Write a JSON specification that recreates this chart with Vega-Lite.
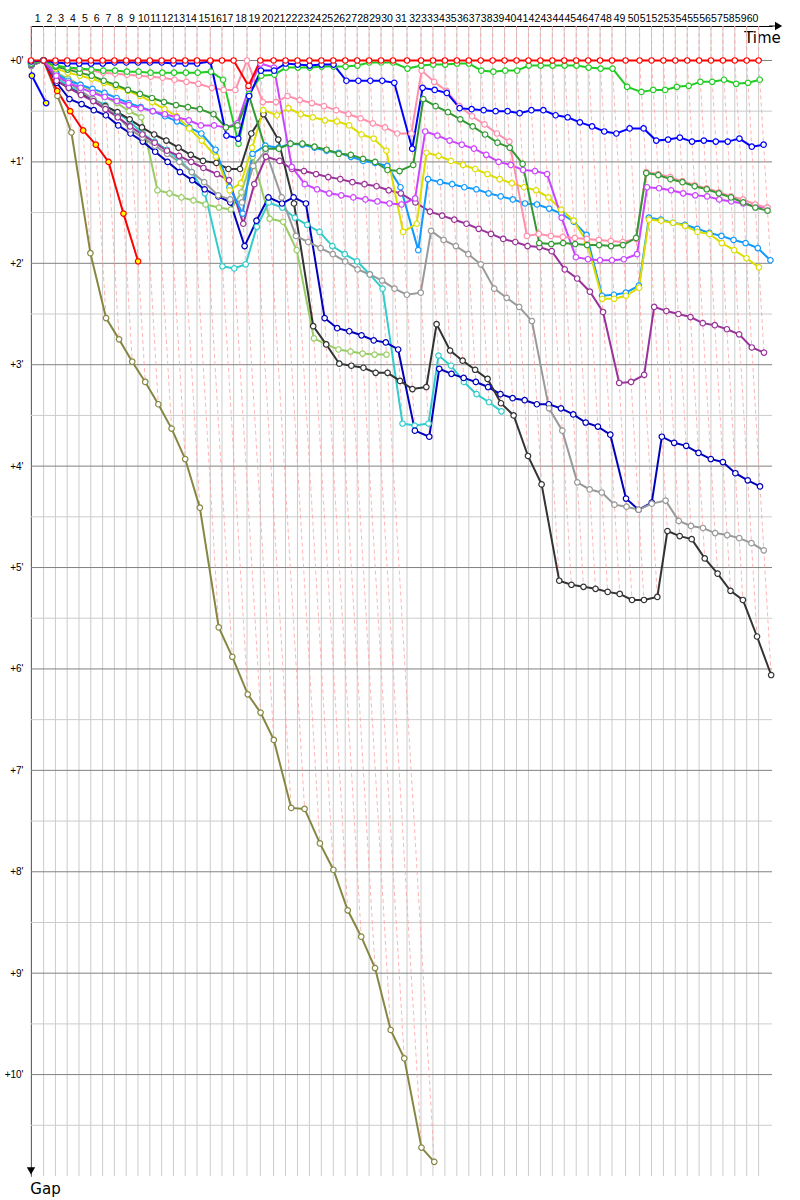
{
"$schema": "https://vega.github.io/schema/vega-lite/v6.json",
"width": 741, "height": 1150,
"autosize": {"type": "none"},
"padding": {"left": 31, "top": 26, "right": 28, "bottom": 24},
"background": "white",
"config": {"view": {"stroke": null}, "axis": {"grid": false, "ticks": false}},
"datasets": {
"laps": [{"lap":0,"t":0},{"lap":1,"t":2.1},{"lap":2,"t":4.07},{"lap":3,"t":6.03},{"lap":4,"t":8.0},{"lap":5,"t":9.97},{"lap":6,"t":11.93},{"lap":7,"t":13.9},{"lap":8,"t":15.87},{"lap":9,"t":17.83},{"lap":10,"t":19.8},{"lap":11,"t":21.77},{"lap":12,"t":23.73},{"lap":13,"t":25.7},{"lap":14,"t":27.67},{"lap":15,"t":29.88},{"lap":16,"t":31.83},{"lap":17,"t":33.77},{"lap":18,"t":36},{"lap":19,"t":38.22},{"lap":20,"t":40.43},{"lap":21,"t":42.42},{"lap":22,"t":44.41},{"lap":23,"t":46.4},{"lap":24,"t":48.39},{"lap":25,"t":50.38},{"lap":26,"t":52.37},{"lap":27,"t":54.36},{"lap":28,"t":56.35},{"lap":29,"t":58.34},{"lap":30,"t":60.33},{"lap":31,"t":62.67},{"lap":32,"t":65},{"lap":33,"t":66.99},{"lap":34,"t":68.98},{"lap":35,"t":70.97},{"lap":36,"t":72.96},{"lap":37,"t":74.95},{"lap":38,"t":76.94},{"lap":39,"t":78.93},{"lap":40,"t":80.92},{"lap":41,"t":82.91},{"lap":42,"t":84.9},{"lap":43,"t":86.89},{"lap":44,"t":88.88},{"lap":45,"t":90.87},{"lap":46,"t":92.86},{"lap":47,"t":94.85},{"lap":48,"t":96.84},{"lap":49,"t":99.1},{"lap":50,"t":101.43},{"lap":51,"t":103.42},{"lap":52,"t":105.4},{"lap":53,"t":107.38},{"lap":54,"t":109.37},{"lap":55,"t":111.35},{"lap":56,"t":113.33},{"lap":57,"t":115.32},{"lap":58,"t":117.3},{"lap":59,"t":119.28},{"lap":60,"t":121.27}],
"ymaj": [{"v":0},{"v":1},{"v":2},{"v":3},{"v":4},{"v":5},{"v":6},{"v":7},{"v":8},{"v":9},{"v":10}],
"ymin": [{"v":0.5},{"v":1.5},{"v":2.5},{"v":3.5},{"v":4.5},{"v":5.5},{"v":6.5},{"v":7.5},{"v":8.5},{"v":9.5},{"v":10.5}],
"gaps": [
{"d":"olive","lap":0,"g":0.05},{"d":"olive","lap":1,"g":0},{"d":"olive","lap":2,"g":0.35},{"d":"olive","lap":3,"g":0.71},{"d":"olive","lap":4,"g":1.9},{"d":"olive","lap":5,"g":2.54},{"d":"olive","lap":6,"g":2.75},{"d":"olive","lap":7,"g":2.97},{"d":"olive","lap":8,"g":3.17},{"d":"olive","lap":9,"g":3.39},{"d":"olive","lap":10,"g":3.63},{"d":"olive","lap":11,"g":3.93},{"d":"olive","lap":12,"g":4.41},{"d":"olive","lap":13,"g":5.59},{"d":"olive","lap":14,"g":5.88},{"d":"olive","lap":15,"g":6.25},{"d":"olive","lap":16,"g":6.43},{"d":"olive","lap":17,"g":6.7},{"d":"olive","lap":18,"g":7.37},{"d":"olive","lap":19,"g":7.38},{"d":"olive","lap":20,"g":7.72},{"d":"olive","lap":21,"g":7.98},{"d":"olive","lap":22,"g":8.38},{"d":"olive","lap":23,"g":8.64},{"d":"olive","lap":24,"g":8.95},{"d":"olive","lap":25,"g":9.56},{"d":"olive","lap":26,"g":9.84},{"d":"olive","lap":27,"g":10.72},{"d":"olive","lap":28,"g":10.86},
{"d":"ygreen","lap":0,"g":0.04},{"d":"ygreen","lap":1,"g":0},{"d":"ygreen","lap":2,"g":0.12},{"d":"ygreen","lap":3,"g":0.18},{"d":"ygreen","lap":4,"g":0.24},{"d":"ygreen","lap":5,"g":0.3},{"d":"ygreen","lap":6,"g":0.36},{"d":"ygreen","lap":7,"g":0.42},{"d":"ygreen","lap":8,"g":0.5},{"d":"ygreen","lap":9,"g":0.56},{"d":"ygreen","lap":10,"g":1.28},{"d":"ygreen","lap":11,"g":1.31},{"d":"ygreen","lap":12,"g":1.35},{"d":"ygreen","lap":13,"g":1.38},{"d":"ygreen","lap":14,"g":1.42},{"d":"ygreen","lap":15,"g":1.45},{"d":"ygreen","lap":16,"g":1.47},{"d":"ygreen","lap":17,"g":1.3},{"d":"ygreen","lap":18,"g":0.95},{"d":"ygreen","lap":19,"g":1.56},{"d":"ygreen","lap":20,"g":1.59},{"d":"ygreen","lap":21,"g":1.87},{"d":"ygreen","lap":22,"g":2.74},{"d":"ygreen","lap":23,"g":2.8},{"d":"ygreen","lap":24,"g":2.85},{"d":"ygreen","lap":25,"g":2.87},{"d":"ygreen","lap":26,"g":2.89},{"d":"ygreen","lap":27,"g":2.9},{"d":"ygreen","lap":28,"g":2.9},
{"d":"turq","lap":0,"g":0.05},{"d":"turq","lap":1,"g":0},{"d":"turq","lap":2,"g":0.17},{"d":"turq","lap":3,"g":0.25},{"d":"turq","lap":4,"g":0.32},{"d":"turq","lap":5,"g":0.38},{"d":"turq","lap":6,"g":0.44},{"d":"turq","lap":7,"g":0.52},{"d":"turq","lap":8,"g":0.6},{"d":"turq","lap":9,"g":0.72},{"d":"turq","lap":10,"g":0.8},{"d":"turq","lap":11,"g":0.88},{"d":"turq","lap":12,"g":0.98},{"d":"turq","lap":13,"g":1.1},{"d":"turq","lap":14,"g":1.31},{"d":"turq","lap":15,"g":2.03},{"d":"turq","lap":16,"g":2.05},{"d":"turq","lap":17,"g":2.01},{"d":"turq","lap":18,"g":1.64},{"d":"turq","lap":19,"g":1.4},{"d":"turq","lap":20,"g":1.45},{"d":"turq","lap":21,"g":1.55},{"d":"turq","lap":22,"g":1.62},{"d":"turq","lap":23,"g":1.69},{"d":"turq","lap":24,"g":1.83},{"d":"turq","lap":25,"g":1.91},{"d":"turq","lap":26,"g":1.98},{"d":"turq","lap":27,"g":2.11},{"d":"turq","lap":28,"g":2.25},{"d":"turq","lap":29,"g":3.58},{"d":"turq","lap":30,"g":3.6},{"d":"turq","lap":31,"g":3.58},{"d":"turq","lap":32,"g":2.91},{"d":"turq","lap":33,"g":3.01},{"d":"turq","lap":34,"g":3.17},{"d":"turq","lap":35,"g":3.29},{"d":"turq","lap":36,"g":3.37},{"d":"turq","lap":37,"g":3.46},
{"d":"gy","lap":0,"g":0.04},{"d":"gy","lap":1,"g":0},{"d":"gy","lap":2,"g":0.115},
{"d":"by","lap":0,"g":0.15},{"d":"by","lap":1,"g":0.42},
{"d":"ry","lap":0,"g":0.02},{"d":"ry","lap":1,"g":0},{"d":"ry","lap":2,"g":0.3},{"d":"ry","lap":3,"g":0.5},{"d":"ry","lap":4,"g":0.69},{"d":"ry","lap":5,"g":0.83},{"d":"ry","lap":6,"g":1.0},{"d":"ry","lap":7,"g":1.51},{"d":"ry","lap":8,"g":1.98},
{"d":"dkblue","lap":0,"g":0.04},{"d":"dkblue","lap":1,"g":0},{"d":"dkblue","lap":2,"g":0.22},{"d":"dkblue","lap":3,"g":0.38},{"d":"dkblue","lap":4,"g":0.43},{"d":"dkblue","lap":5,"g":0.49},{"d":"dkblue","lap":6,"g":0.54},{"d":"dkblue","lap":7,"g":0.64},{"d":"dkblue","lap":8,"g":0.72},{"d":"dkblue","lap":9,"g":0.8},{"d":"dkblue","lap":10,"g":0.9},{"d":"dkblue","lap":11,"g":1.0},{"d":"dkblue","lap":12,"g":1.1},{"d":"dkblue","lap":13,"g":1.18},{"d":"dkblue","lap":14,"g":1.27},{"d":"dkblue","lap":15,"g":1.34},{"d":"dkblue","lap":16,"g":1.4},{"d":"dkblue","lap":17,"g":1.83},{"d":"dkblue","lap":18,"g":1.58},{"d":"dkblue","lap":19,"g":1.35},{"d":"dkblue","lap":20,"g":1.41},{"d":"dkblue","lap":21,"g":1.35},{"d":"dkblue","lap":22,"g":1.41},{"d":"dkblue","lap":23,"g":2.54},{"d":"dkblue","lap":24,"g":2.64},{"d":"dkblue","lap":25,"g":2.67},{"d":"dkblue","lap":26,"g":2.71},{"d":"dkblue","lap":27,"g":2.76},{"d":"dkblue","lap":28,"g":2.78},{"d":"dkblue","lap":29,"g":2.85},{"d":"dkblue","lap":30,"g":3.65},{"d":"dkblue","lap":31,"g":3.71},{"d":"dkblue","lap":32,"g":3.04},{"d":"dkblue","lap":33,"g":3.09},{"d":"dkblue","lap":34,"g":3.13},{"d":"dkblue","lap":35,"g":3.17},{"d":"dkblue","lap":36,"g":3.22},{"d":"dkblue","lap":37,"g":3.29},{"d":"dkblue","lap":38,"g":3.33},{"d":"dkblue","lap":39,"g":3.35},{"d":"dkblue","lap":40,"g":3.39},{"d":"dkblue","lap":41,"g":3.39},{"d":"dkblue","lap":42,"g":3.43},{"d":"dkblue","lap":43,"g":3.49},{"d":"dkblue","lap":44,"g":3.57},{"d":"dkblue","lap":45,"g":3.61},{"d":"dkblue","lap":46,"g":3.69},{"d":"dkblue","lap":47,"g":4.32},{"d":"dkblue","lap":48,"g":4.43},{"d":"dkblue","lap":49,"g":4.36},{"d":"dkblue","lap":50,"g":3.71},{"d":"dkblue","lap":51,"g":3.77},{"d":"dkblue","lap":52,"g":3.8},{"d":"dkblue","lap":53,"g":3.87},{"d":"dkblue","lap":54,"g":3.93},{"d":"dkblue","lap":55,"g":3.96},{"d":"dkblue","lap":56,"g":4.07},{"d":"dkblue","lap":57,"g":4.14},{"d":"dkblue","lap":58,"g":4.2},
{"d":"black","lap":0,"g":0.05},{"d":"black","lap":1,"g":0},{"d":"black","lap":2,"g":0.2},{"d":"black","lap":3,"g":0.27},{"d":"black","lap":4,"g":0.33},{"d":"black","lap":5,"g":0.39},{"d":"black","lap":6,"g":0.45},{"d":"black","lap":7,"g":0.51},{"d":"black","lap":8,"g":0.58},{"d":"black","lap":9,"g":0.66},{"d":"black","lap":10,"g":0.73},{"d":"black","lap":11,"g":0.79},{"d":"black","lap":12,"g":0.86},{"d":"black","lap":13,"g":0.93},{"d":"black","lap":14,"g":0.99},{"d":"black","lap":15,"g":1.01},{"d":"black","lap":16,"g":1.07},{"d":"black","lap":17,"g":1.07},{"d":"black","lap":18,"g":0.72},{"d":"black","lap":19,"g":0.53},{"d":"black","lap":20,"g":0.78},{"d":"black","lap":21,"g":1.41},{"d":"black","lap":22,"g":2.62},{"d":"black","lap":23,"g":2.8},{"d":"black","lap":24,"g":2.99},{"d":"black","lap":25,"g":3.01},{"d":"black","lap":26,"g":3.03},{"d":"black","lap":27,"g":3.08},{"d":"black","lap":28,"g":3.08},{"d":"black","lap":29,"g":3.16},{"d":"black","lap":30,"g":3.24},{"d":"black","lap":31,"g":3.22},{"d":"black","lap":32,"g":2.6},{"d":"black","lap":33,"g":2.86},{"d":"black","lap":34,"g":2.96},{"d":"black","lap":35,"g":3.05},{"d":"black","lap":36,"g":3.14},{"d":"black","lap":37,"g":3.38},{"d":"black","lap":38,"g":3.5},{"d":"black","lap":39,"g":3.9},{"d":"black","lap":40,"g":4.18},{"d":"black","lap":41,"g":5.13},{"d":"black","lap":42,"g":5.17},{"d":"black","lap":43,"g":5.19},{"d":"black","lap":44,"g":5.21},{"d":"black","lap":45,"g":5.24},{"d":"black","lap":46,"g":5.26},{"d":"black","lap":47,"g":5.32},{"d":"black","lap":48,"g":5.32},{"d":"black","lap":49,"g":5.29},{"d":"black","lap":50,"g":4.64},{"d":"black","lap":51,"g":4.69},{"d":"black","lap":52,"g":4.72},{"d":"black","lap":53,"g":4.91},{"d":"black","lap":54,"g":5.06},{"d":"black","lap":55,"g":5.23},{"d":"black","lap":56,"g":5.32},{"d":"black","lap":57,"g":5.68},{"d":"black","lap":58,"g":6.06},
{"d":"gray","lap":0,"g":0.05},{"d":"gray","lap":1,"g":0},{"d":"gray","lap":2,"g":0.15},{"d":"gray","lap":3,"g":0.22},{"d":"gray","lap":4,"g":0.3},{"d":"gray","lap":5,"g":0.38},{"d":"gray","lap":6,"g":0.46},{"d":"gray","lap":7,"g":0.55},{"d":"gray","lap":8,"g":0.68},{"d":"gray","lap":9,"g":0.76},{"d":"gray","lap":10,"g":0.84},{"d":"gray","lap":11,"g":0.92},{"d":"gray","lap":12,"g":1.0},{"d":"gray","lap":13,"g":1.1},{"d":"gray","lap":14,"g":1.2},{"d":"gray","lap":15,"g":1.33},{"d":"gray","lap":16,"g":1.37},{"d":"gray","lap":17,"g":1.4},{"d":"gray","lap":18,"g":1.04},{"d":"gray","lap":19,"g":0.89},{"d":"gray","lap":20,"g":1.35},{"d":"gray","lap":21,"g":1.73},{"d":"gray","lap":22,"g":1.79},{"d":"gray","lap":23,"g":1.85},{"d":"gray","lap":24,"g":1.91},{"d":"gray","lap":25,"g":1.98},{"d":"gray","lap":26,"g":2.06},{"d":"gray","lap":27,"g":2.11},{"d":"gray","lap":28,"g":2.17},{"d":"gray","lap":29,"g":2.25},{"d":"gray","lap":30,"g":2.31},{"d":"gray","lap":31,"g":2.29},{"d":"gray","lap":32,"g":1.68},{"d":"gray","lap":33,"g":1.77},{"d":"gray","lap":34,"g":1.83},{"d":"gray","lap":35,"g":1.91},{"d":"gray","lap":36,"g":2.01},{"d":"gray","lap":37,"g":2.25},{"d":"gray","lap":38,"g":2.34},{"d":"gray","lap":39,"g":2.43},{"d":"gray","lap":40,"g":2.57},{"d":"gray","lap":41,"g":3.43},{"d":"gray","lap":42,"g":3.65},{"d":"gray","lap":43,"g":4.16},{"d":"gray","lap":44,"g":4.23},{"d":"gray","lap":45,"g":4.26},{"d":"gray","lap":46,"g":4.38},{"d":"gray","lap":47,"g":4.4},{"d":"gray","lap":48,"g":4.43},{"d":"gray","lap":49,"g":4.37},{"d":"gray","lap":50,"g":4.34},{"d":"gray","lap":51,"g":4.54},{"d":"gray","lap":52,"g":4.59},{"d":"gray","lap":53,"g":4.61},{"d":"gray","lap":54,"g":4.66},{"d":"gray","lap":55,"g":4.68},{"d":"gray","lap":56,"g":4.71},{"d":"gray","lap":57,"g":4.76},{"d":"gray","lap":58,"g":4.83},
{"d":"purple","lap":0,"g":0.04},{"d":"purple","lap":1,"g":0},{"d":"purple","lap":2,"g":0.2},{"d":"purple","lap":3,"g":0.27},{"d":"purple","lap":4,"g":0.34},{"d":"purple","lap":5,"g":0.4},{"d":"purple","lap":6,"g":0.48},{"d":"purple","lap":7,"g":0.56},{"d":"purple","lap":8,"g":0.65},{"d":"purple","lap":9,"g":0.73},{"d":"purple","lap":10,"g":0.81},{"d":"purple","lap":11,"g":0.89},{"d":"purple","lap":12,"g":0.94},{"d":"purple","lap":13,"g":1.0},{"d":"purple","lap":14,"g":1.06},{"d":"purple","lap":15,"g":1.12},{"d":"purple","lap":16,"g":1.18},{"d":"purple","lap":17,"g":1.61},{"d":"purple","lap":18,"g":1.22},{"d":"purple","lap":19,"g":0.95},{"d":"purple","lap":20,"g":0.99},{"d":"purple","lap":21,"g":1.07},{"d":"purple","lap":22,"g":1.09},{"d":"purple","lap":23,"g":1.12},{"d":"purple","lap":24,"g":1.15},{"d":"purple","lap":25,"g":1.17},{"d":"purple","lap":26,"g":1.2},{"d":"purple","lap":27,"g":1.22},{"d":"purple","lap":28,"g":1.24},{"d":"purple","lap":29,"g":1.28},{"d":"purple","lap":30,"g":1.31},{"d":"purple","lap":31,"g":1.4},{"d":"purple","lap":32,"g":1.49},{"d":"purple","lap":33,"g":1.53},{"d":"purple","lap":34,"g":1.57},{"d":"purple","lap":35,"g":1.61},{"d":"purple","lap":36,"g":1.66},{"d":"purple","lap":37,"g":1.71},{"d":"purple","lap":38,"g":1.76},{"d":"purple","lap":39,"g":1.79},{"d":"purple","lap":40,"g":1.83},{"d":"purple","lap":41,"g":1.84},{"d":"purple","lap":42,"g":1.88},{"d":"purple","lap":43,"g":2.06},{"d":"purple","lap":44,"g":2.15},{"d":"purple","lap":45,"g":2.28},{"d":"purple","lap":46,"g":2.48},{"d":"purple","lap":47,"g":3.18},{"d":"purple","lap":48,"g":3.17},{"d":"purple","lap":49,"g":3.1},{"d":"purple","lap":50,"g":2.43},{"d":"purple","lap":51,"g":2.47},{"d":"purple","lap":52,"g":2.5},{"d":"purple","lap":53,"g":2.53},{"d":"purple","lap":54,"g":2.59},{"d":"purple","lap":55,"g":2.61},{"d":"purple","lap":56,"g":2.65},{"d":"purple","lap":57,"g":2.7},{"d":"purple","lap":58,"g":2.83},{"d":"purple","lap":59,"g":2.88},
{"d":"dodger","lap":0,"g":0.03},{"d":"dodger","lap":1,"g":0},{"d":"dodger","lap":2,"g":0.13},{"d":"dodger","lap":3,"g":0.2},{"d":"dodger","lap":4,"g":0.24},{"d":"dodger","lap":5,"g":0.28},{"d":"dodger","lap":6,"g":0.32},{"d":"dodger","lap":7,"g":0.37},{"d":"dodger","lap":8,"g":0.42},{"d":"dodger","lap":9,"g":0.46},{"d":"dodger","lap":10,"g":0.5},{"d":"dodger","lap":11,"g":0.55},{"d":"dodger","lap":12,"g":0.6},{"d":"dodger","lap":13,"g":0.66},{"d":"dodger","lap":14,"g":0.72},{"d":"dodger","lap":15,"g":0.88},{"d":"dodger","lap":16,"g":1.25},{"d":"dodger","lap":17,"g":1.51},{"d":"dodger","lap":18,"g":0.92},{"d":"dodger","lap":19,"g":0.84},{"d":"dodger","lap":20,"g":0.86},{"d":"dodger","lap":21,"g":0.82},{"d":"dodger","lap":22,"g":0.83},{"d":"dodger","lap":23,"g":0.86},{"d":"dodger","lap":24,"g":0.89},{"d":"dodger","lap":25,"g":0.91},{"d":"dodger","lap":26,"g":0.95},{"d":"dodger","lap":27,"g":0.99},{"d":"dodger","lap":28,"g":1.01},{"d":"dodger","lap":29,"g":1.04},{"d":"dodger","lap":30,"g":1.25},{"d":"dodger","lap":31,"g":1.87},{"d":"dodger","lap":32,"g":1.17},{"d":"dodger","lap":33,"g":1.2},{"d":"dodger","lap":34,"g":1.22},{"d":"dodger","lap":35,"g":1.25},{"d":"dodger","lap":36,"g":1.27},{"d":"dodger","lap":37,"g":1.31},{"d":"dodger","lap":38,"g":1.34},{"d":"dodger","lap":39,"g":1.37},{"d":"dodger","lap":40,"g":1.41},{"d":"dodger","lap":41,"g":1.42},{"d":"dodger","lap":42,"g":1.46},{"d":"dodger","lap":43,"g":1.51},{"d":"dodger","lap":44,"g":1.59},{"d":"dodger","lap":45,"g":1.72},{"d":"dodger","lap":46,"g":2.32},{"d":"dodger","lap":47,"g":2.31},{"d":"dodger","lap":48,"g":2.29},{"d":"dodger","lap":49,"g":2.22},{"d":"dodger","lap":50,"g":1.55},{"d":"dodger","lap":51,"g":1.57},{"d":"dodger","lap":52,"g":1.6},{"d":"dodger","lap":53,"g":1.62},{"d":"dodger","lap":54,"g":1.66},{"d":"dodger","lap":55,"g":1.7},{"d":"dodger","lap":56,"g":1.73},{"d":"dodger","lap":57,"g":1.77},{"d":"dodger","lap":58,"g":1.8},{"d":"dodger","lap":59,"g":1.85},{"d":"dodger","lap":60,"g":1.97},
{"d":"yellow","lap":0,"g":0.02},{"d":"yellow","lap":1,"g":0},{"d":"yellow","lap":2,"g":0.08},{"d":"yellow","lap":3,"g":0.12},{"d":"yellow","lap":4,"g":0.15},{"d":"yellow","lap":5,"g":0.18},{"d":"yellow","lap":6,"g":0.22},{"d":"yellow","lap":7,"g":0.26},{"d":"yellow","lap":8,"g":0.3},{"d":"yellow","lap":9,"g":0.35},{"d":"yellow","lap":10,"g":0.41},{"d":"yellow","lap":11,"g":0.48},{"d":"yellow","lap":12,"g":0.55},{"d":"yellow","lap":13,"g":0.67},{"d":"yellow","lap":14,"g":0.79},{"d":"yellow","lap":15,"g":0.95},{"d":"yellow","lap":16,"g":1.28},{"d":"yellow","lap":17,"g":1.21},{"d":"yellow","lap":18,"g":0.86},{"d":"yellow","lap":19,"g":0.49},{"d":"yellow","lap":20,"g":0.54},{"d":"yellow","lap":21,"g":0.47},{"d":"yellow","lap":22,"g":0.53},{"d":"yellow","lap":23,"g":0.56},{"d":"yellow","lap":24,"g":0.59},{"d":"yellow","lap":25,"g":0.6},{"d":"yellow","lap":26,"g":0.64},{"d":"yellow","lap":27,"g":0.73},{"d":"yellow","lap":28,"g":0.77},{"d":"yellow","lap":29,"g":0.89},{"d":"yellow","lap":30,"g":1.69},{"d":"yellow","lap":31,"g":1.61},{"d":"yellow","lap":32,"g":0.91},{"d":"yellow","lap":33,"g":0.94},{"d":"yellow","lap":34,"g":0.99},{"d":"yellow","lap":35,"g":1.03},{"d":"yellow","lap":36,"g":1.07},{"d":"yellow","lap":37,"g":1.12},{"d":"yellow","lap":38,"g":1.17},{"d":"yellow","lap":39,"g":1.21},{"d":"yellow","lap":40,"g":1.25},{"d":"yellow","lap":41,"g":1.28},{"d":"yellow","lap":42,"g":1.35},{"d":"yellow","lap":43,"g":1.47},{"d":"yellow","lap":44,"g":1.58},{"d":"yellow","lap":45,"g":1.79},{"d":"yellow","lap":46,"g":2.35},{"d":"yellow","lap":47,"g":2.35},{"d":"yellow","lap":48,"g":2.32},{"d":"yellow","lap":49,"g":2.24},{"d":"yellow","lap":50,"g":1.57},{"d":"yellow","lap":51,"g":1.58},{"d":"yellow","lap":52,"g":1.6},{"d":"yellow","lap":53,"g":1.63},{"d":"yellow","lap":54,"g":1.69},{"d":"yellow","lap":55,"g":1.71},{"d":"yellow","lap":56,"g":1.8},{"d":"yellow","lap":57,"g":1.87},{"d":"yellow","lap":58,"g":1.95},{"d":"yellow","lap":59,"g":2.04},
{"d":"violet","lap":0,"g":0.03},{"d":"violet","lap":1,"g":0},{"d":"violet","lap":2,"g":0.15},{"d":"violet","lap":3,"g":0.22},{"d":"violet","lap":4,"g":0.27},{"d":"violet","lap":5,"g":0.32},{"d":"violet","lap":6,"g":0.36},{"d":"violet","lap":7,"g":0.4},{"d":"violet","lap":8,"g":0.44},{"d":"violet","lap":9,"g":0.47},{"d":"violet","lap":10,"g":0.5},{"d":"violet","lap":11,"g":0.53},{"d":"violet","lap":12,"g":0.56},{"d":"violet","lap":13,"g":0.59},{"d":"violet","lap":14,"g":0.64},{"d":"violet","lap":15,"g":0.64},{"d":"violet","lap":16,"g":0.66},{"d":"violet","lap":17,"g":0.62},{"d":"violet","lap":18,"g":0.28},{"d":"violet","lap":19,"g":0.03},{"d":"violet","lap":20,"g":0.07},{"d":"violet","lap":21,"g":1.05},{"d":"violet","lap":22,"g":1.22},{"d":"violet","lap":23,"g":1.27},{"d":"violet","lap":24,"g":1.31},{"d":"violet","lap":25,"g":1.33},{"d":"violet","lap":26,"g":1.35},{"d":"violet","lap":27,"g":1.37},{"d":"violet","lap":28,"g":1.39},{"d":"violet","lap":29,"g":1.41},{"d":"violet","lap":30,"g":1.42},{"d":"violet","lap":31,"g":1.36},{"d":"violet","lap":32,"g":0.7},{"d":"violet","lap":33,"g":0.74},{"d":"violet","lap":34,"g":0.79},{"d":"violet","lap":35,"g":0.83},{"d":"violet","lap":36,"g":0.87},{"d":"violet","lap":37,"g":0.93},{"d":"violet","lap":38,"g":1.0},{"d":"violet","lap":39,"g":1.03},{"d":"violet","lap":40,"g":1.08},{"d":"violet","lap":41,"g":1.09},{"d":"violet","lap":42,"g":1.12},{"d":"violet","lap":43,"g":1.55},{"d":"violet","lap":44,"g":1.94},{"d":"violet","lap":45,"g":1.96},{"d":"violet","lap":46,"g":1.97},{"d":"violet","lap":47,"g":1.97},{"d":"violet","lap":48,"g":1.96},{"d":"violet","lap":49,"g":1.91},{"d":"violet","lap":50,"g":1.25},{"d":"violet","lap":51,"g":1.26},{"d":"violet","lap":52,"g":1.28},{"d":"violet","lap":53,"g":1.31},{"d":"violet","lap":54,"g":1.33},{"d":"violet","lap":55,"g":1.34},{"d":"violet","lap":56,"g":1.37},{"d":"violet","lap":57,"g":1.39},{"d":"violet","lap":58,"g":1.41},{"d":"violet","lap":59,"g":1.44},{"d":"violet","lap":60,"g":1.45},
{"d":"pink","lap":0,"g":0.02},{"d":"pink","lap":1,"g":0},{"d":"pink","lap":2,"g":0.06},{"d":"pink","lap":3,"g":0.08},{"d":"pink","lap":4,"g":0.09},{"d":"pink","lap":5,"g":0.1},{"d":"pink","lap":6,"g":0.12},{"d":"pink","lap":7,"g":0.13},{"d":"pink","lap":8,"g":0.14},{"d":"pink","lap":9,"g":0.15},{"d":"pink","lap":10,"g":0.16},{"d":"pink","lap":11,"g":0.17},{"d":"pink","lap":12,"g":0.19},{"d":"pink","lap":13,"g":0.21},{"d":"pink","lap":14,"g":0.23},{"d":"pink","lap":15,"g":0.27},{"d":"pink","lap":16,"g":0.29},{"d":"pink","lap":17,"g":0.29},{"d":"pink","lap":18,"g":0},{"d":"pink","lap":19,"g":0.41},{"d":"pink","lap":20,"g":0.41},{"d":"pink","lap":21,"g":0.35},{"d":"pink","lap":22,"g":0.39},{"d":"pink","lap":23,"g":0.42},{"d":"pink","lap":24,"g":0.45},{"d":"pink","lap":25,"g":0.49},{"d":"pink","lap":26,"g":0.53},{"d":"pink","lap":27,"g":0.57},{"d":"pink","lap":28,"g":0.62},{"d":"pink","lap":29,"g":0.66},{"d":"pink","lap":30,"g":0.72},{"d":"pink","lap":31,"g":0.72},{"d":"pink","lap":32,"g":0.1},{"d":"pink","lap":33,"g":0.21},{"d":"pink","lap":34,"g":0.3},{"d":"pink","lap":35,"g":0.45},{"d":"pink","lap":36,"g":0.55},{"d":"pink","lap":37,"g":0.63},{"d":"pink","lap":38,"g":0.72},{"d":"pink","lap":39,"g":0.8},{"d":"pink","lap":40,"g":1.73},{"d":"pink","lap":41,"g":1.71},{"d":"pink","lap":42,"g":1.73},{"d":"pink","lap":43,"g":1.74},{"d":"pink","lap":44,"g":1.75},{"d":"pink","lap":45,"g":1.76},{"d":"pink","lap":46,"g":1.77},{"d":"pink","lap":47,"g":1.78},{"d":"pink","lap":48,"g":1.79},{"d":"pink","lap":49,"g":1.76},{"d":"pink","lap":50,"g":1.1},{"d":"pink","lap":51,"g":1.12},{"d":"pink","lap":52,"g":1.15},{"d":"pink","lap":53,"g":1.19},{"d":"pink","lap":54,"g":1.23},{"d":"pink","lap":55,"g":1.26},{"d":"pink","lap":56,"g":1.3},{"d":"pink","lap":57,"g":1.34},{"d":"pink","lap":58,"g":1.37},{"d":"pink","lap":59,"g":1.42},{"d":"pink","lap":60,"g":1.45},
{"d":"dkgreen","lap":0,"g":0.02},{"d":"dkgreen","lap":1,"g":0},{"d":"dkgreen","lap":2,"g":0.06},{"d":"dkgreen","lap":3,"g":0.09},{"d":"dkgreen","lap":4,"g":0.12},{"d":"dkgreen","lap":5,"g":0.15},{"d":"dkgreen","lap":6,"g":0.2},{"d":"dkgreen","lap":7,"g":0.24},{"d":"dkgreen","lap":8,"g":0.29},{"d":"dkgreen","lap":9,"g":0.33},{"d":"dkgreen","lap":10,"g":0.37},{"d":"dkgreen","lap":11,"g":0.41},{"d":"dkgreen","lap":12,"g":0.44},{"d":"dkgreen","lap":13,"g":0.46},{"d":"dkgreen","lap":14,"g":0.48},{"d":"dkgreen","lap":15,"g":0.53},{"d":"dkgreen","lap":16,"g":0.66},{"d":"dkgreen","lap":17,"g":0.64},{"d":"dkgreen","lap":18,"g":0.35},{"d":"dkgreen","lap":19,"g":0.87},{"d":"dkgreen","lap":20,"g":0.87},{"d":"dkgreen","lap":21,"g":0.82},{"d":"dkgreen","lap":22,"g":0.82},{"d":"dkgreen","lap":23,"g":0.85},{"d":"dkgreen","lap":24,"g":0.88},{"d":"dkgreen","lap":25,"g":0.92},{"d":"dkgreen","lap":26,"g":0.93},{"d":"dkgreen","lap":27,"g":0.97},{"d":"dkgreen","lap":28,"g":1.0},{"d":"dkgreen","lap":29,"g":1.08},{"d":"dkgreen","lap":30,"g":1.09},{"d":"dkgreen","lap":31,"g":1.03},{"d":"dkgreen","lap":32,"g":0.38},{"d":"dkgreen","lap":33,"g":0.45},{"d":"dkgreen","lap":34,"g":0.51},{"d":"dkgreen","lap":35,"g":0.58},{"d":"dkgreen","lap":36,"g":0.65},{"d":"dkgreen","lap":37,"g":0.73},{"d":"dkgreen","lap":38,"g":0.81},{"d":"dkgreen","lap":39,"g":0.86},{"d":"dkgreen","lap":40,"g":1.02},{"d":"dkgreen","lap":41,"g":1.8},{"d":"dkgreen","lap":42,"g":1.81},{"d":"dkgreen","lap":43,"g":1.8},{"d":"dkgreen","lap":44,"g":1.81},{"d":"dkgreen","lap":45,"g":1.82},{"d":"dkgreen","lap":46,"g":1.82},{"d":"dkgreen","lap":47,"g":1.83},{"d":"dkgreen","lap":48,"g":1.82},{"d":"dkgreen","lap":49,"g":1.75},{"d":"dkgreen","lap":50,"g":1.11},{"d":"dkgreen","lap":51,"g":1.13},{"d":"dkgreen","lap":52,"g":1.17},{"d":"dkgreen","lap":53,"g":1.2},{"d":"dkgreen","lap":54,"g":1.24},{"d":"dkgreen","lap":55,"g":1.27},{"d":"dkgreen","lap":56,"g":1.31},{"d":"dkgreen","lap":57,"g":1.35},{"d":"dkgreen","lap":58,"g":1.4},{"d":"dkgreen","lap":59,"g":1.45},{"d":"dkgreen","lap":60,"g":1.48},
{"d":"green","lap":0,"g":0.03},{"d":"green","lap":1,"g":0},{"d":"green","lap":2,"g":0.05},{"d":"green","lap":3,"g":0.07},{"d":"green","lap":4,"g":0.08},{"d":"green","lap":5,"g":0.09},{"d":"green","lap":6,"g":0.1},{"d":"green","lap":7,"g":0.1},{"d":"green","lap":8,"g":0.11},{"d":"green","lap":9,"g":0.11},{"d":"green","lap":10,"g":0.12},{"d":"green","lap":11,"g":0.12},{"d":"green","lap":12,"g":0.12},{"d":"green","lap":13,"g":0.12},{"d":"green","lap":14,"g":0.12},{"d":"green","lap":15,"g":0.11},{"d":"green","lap":16,"g":0.19},{"d":"green","lap":17,"g":0.82},{"d":"green","lap":18,"g":0.33},{"d":"green","lap":19,"g":0.15},{"d":"green","lap":20,"g":0.14},{"d":"green","lap":21,"g":0.07},{"d":"green","lap":22,"g":0.07},{"d":"green","lap":23,"g":0.07},{"d":"green","lap":24,"g":0.06},{"d":"green","lap":25,"g":0.06},{"d":"green","lap":26,"g":0.06},{"d":"green","lap":27,"g":0.05},{"d":"green","lap":28,"g":0.02},{"d":"green","lap":29,"g":0.02},{"d":"green","lap":30,"g":0.02},{"d":"green","lap":31,"g":0.08},{"d":"green","lap":32,"g":0.05},{"d":"green","lap":33,"g":0.04},{"d":"green","lap":34,"g":0.04},{"d":"green","lap":35,"g":0.03},{"d":"green","lap":36,"g":0.03},{"d":"green","lap":37,"g":0.1},{"d":"green","lap":38,"g":0.11},{"d":"green","lap":39,"g":0.1},{"d":"green","lap":40,"g":0.1},{"d":"green","lap":41,"g":0.05},{"d":"green","lap":42,"g":0.05},{"d":"green","lap":43,"g":0.05},{"d":"green","lap":44,"g":0.05},{"d":"green","lap":45,"g":0.05},{"d":"green","lap":46,"g":0.07},{"d":"green","lap":47,"g":0.08},{"d":"green","lap":48,"g":0.08},{"d":"green","lap":49,"g":0.26},{"d":"green","lap":50,"g":0.31},{"d":"green","lap":51,"g":0.29},{"d":"green","lap":52,"g":0.29},{"d":"green","lap":53,"g":0.26},{"d":"green","lap":54,"g":0.25},{"d":"green","lap":55,"g":0.21},{"d":"green","lap":56,"g":0.21},{"d":"green","lap":57,"g":0.19},{"d":"green","lap":58,"g":0.23},{"d":"green","lap":59,"g":0.22},{"d":"green","lap":60,"g":0.19},
{"d":"blue","lap":0,"g":0.01},{"d":"blue","lap":1,"g":0},{"d":"blue","lap":2,"g":0.02},{"d":"blue","lap":3,"g":0.03},{"d":"blue","lap":4,"g":0.03},{"d":"blue","lap":5,"g":0.03},{"d":"blue","lap":6,"g":0.03},{"d":"blue","lap":7,"g":0.02},{"d":"blue","lap":8,"g":0.02},{"d":"blue","lap":9,"g":0.02},{"d":"blue","lap":10,"g":0.02},{"d":"blue","lap":11,"g":0.02},{"d":"blue","lap":12,"g":0.03},{"d":"blue","lap":13,"g":0.03},{"d":"blue","lap":14,"g":0.03},{"d":"blue","lap":15,"g":0.01},{"d":"blue","lap":16,"g":0.74},{"d":"blue","lap":17,"g":0.77},{"d":"blue","lap":18,"g":0.35},{"d":"blue","lap":19,"g":0.1},{"d":"blue","lap":20,"g":0.1},{"d":"blue","lap":21,"g":0.03},{"d":"blue","lap":22,"g":0.04},{"d":"blue","lap":23,"g":0.05},{"d":"blue","lap":24,"g":0.04},{"d":"blue","lap":25,"g":0.04},{"d":"blue","lap":26,"g":0.2},{"d":"blue","lap":27,"g":0.2},{"d":"blue","lap":28,"g":0.2},{"d":"blue","lap":29,"g":0.2},{"d":"blue","lap":30,"g":0.22},{"d":"blue","lap":31,"g":0.87},{"d":"blue","lap":32,"g":0.27},{"d":"blue","lap":33,"g":0.29},{"d":"blue","lap":34,"g":0.32},{"d":"blue","lap":35,"g":0.47},{"d":"blue","lap":36,"g":0.48},{"d":"blue","lap":37,"g":0.49},{"d":"blue","lap":38,"g":0.5},{"d":"blue","lap":39,"g":0.5},{"d":"blue","lap":40,"g":0.52},{"d":"blue","lap":41,"g":0.49},{"d":"blue","lap":42,"g":0.49},{"d":"blue","lap":43,"g":0.54},{"d":"blue","lap":44,"g":0.56},{"d":"blue","lap":45,"g":0.61},{"d":"blue","lap":46,"g":0.65},{"d":"blue","lap":47,"g":0.7},{"d":"blue","lap":48,"g":0.72},{"d":"blue","lap":49,"g":0.67},{"d":"blue","lap":50,"g":0.67},{"d":"blue","lap":51,"g":0.79},{"d":"blue","lap":52,"g":0.78},{"d":"blue","lap":53,"g":0.76},{"d":"blue","lap":54,"g":0.8},{"d":"blue","lap":55,"g":0.79},{"d":"blue","lap":56,"g":0.8},{"d":"blue","lap":57,"g":0.8},{"d":"blue","lap":58,"g":0.77},{"d":"blue","lap":59,"g":0.85},{"d":"blue","lap":60,"g":0.83},
{"d":"red","lap":0,"g":0},{"d":"red","lap":1,"g":0},{"d":"red","lap":2,"g":0},{"d":"red","lap":3,"g":0},{"d":"red","lap":4,"g":0},{"d":"red","lap":5,"g":0},{"d":"red","lap":6,"g":0},{"d":"red","lap":7,"g":0},{"d":"red","lap":8,"g":0},{"d":"red","lap":9,"g":0},{"d":"red","lap":10,"g":0},{"d":"red","lap":11,"g":0},{"d":"red","lap":12,"g":0},{"d":"red","lap":13,"g":0},{"d":"red","lap":14,"g":0},{"d":"red","lap":15,"g":0},{"d":"red","lap":16,"g":0},{"d":"red","lap":17,"g":0},{"d":"red","lap":18,"g":0.25},{"d":"red","lap":19,"g":0},{"d":"red","lap":20,"g":0},{"d":"red","lap":21,"g":0},{"d":"red","lap":22,"g":0},{"d":"red","lap":23,"g":0},{"d":"red","lap":24,"g":0},{"d":"red","lap":25,"g":0},{"d":"red","lap":26,"g":0},{"d":"red","lap":27,"g":0},{"d":"red","lap":28,"g":0},{"d":"red","lap":29,"g":0},{"d":"red","lap":30,"g":0},{"d":"red","lap":31,"g":0},{"d":"red","lap":32,"g":0},{"d":"red","lap":33,"g":0},{"d":"red","lap":34,"g":0},{"d":"red","lap":35,"g":0},{"d":"red","lap":36,"g":0},{"d":"red","lap":37,"g":0},{"d":"red","lap":38,"g":0},{"d":"red","lap":39,"g":0},{"d":"red","lap":40,"g":0},{"d":"red","lap":41,"g":0},{"d":"red","lap":42,"g":0},{"d":"red","lap":43,"g":0},{"d":"red","lap":44,"g":0},{"d":"red","lap":45,"g":0},{"d":"red","lap":46,"g":0},{"d":"red","lap":47,"g":0},{"d":"red","lap":48,"g":0},{"d":"red","lap":49,"g":0},{"d":"red","lap":50,"g":0},{"d":"red","lap":51,"g":0},{"d":"red","lap":52,"g":0},{"d":"red","lap":53,"g":0},{"d":"red","lap":54,"g":0},{"d":"red","lap":55,"g":0},{"d":"red","lap":56,"g":0},{"d":"red","lap":57,"g":0},{"d":"red","lap":58,"g":0},{"d":"red","lap":59,"g":0},{"d":"red","lap":60,"g":0}
]
},
"layer": [
{"data": {"name": "laps"}, "mark": {"type": "rule", "color": "#cccccc", "strokeWidth": 1},
 "encoding": {"x": {"field": "t", "type": "quantitative", "scale": {"domain": [0, 123.5], "nice": false, "zero": false},
   "axis": {"orient": "top", "values": [0], "labels": false, "grid": false, "ticks": false, "domain": true, "domainColor": "#000000", "domainWidth": 1,
    "title": "Time", "titleX": 731, "titleY": 11, "titleAlign": "center", "titleBaseline": "middle",
    "titleFont": "DejaVu Sans", "titleFontSize": 15, "titleFontWeight": "normal", "titleColor": "#000000"}}}},
{"data": {"name": "ymin"}, "mark": {"type": "rule", "color": "#cccccc", "strokeWidth": 1},
 "encoding": {"y": {"field": "v", "type": "quantitative", "scale": {"domain": [-0.34, 11.0], "reverse": true, "nice": false, "zero": false},
   "axis": {"orient": "left", "values": [0,1,2,3,4,5,6,7,8,9,10], "labelExpr": "'+' + datum.value + \"'\"",
    "grid": false, "ticks": false, "domain": true, "domainColor": "#000000", "domainWidth": 1,
    "labelFont": "Liberation Sans", "labelFontSize": 10, "labelColor": "#000000", "labelPadding": 8,
    "title": "Gap", "titleAngle": 0, "titleX": 14, "titleY": 1162, "titleAlign": "center", "titleBaseline": "middle",
    "titleFont": "DejaVu Sans", "titleFontSize": 15, "titleFontWeight": "normal", "titleColor": "#000000"}}}},
{"data": {"name": "ymaj"}, "mark": {"type": "rule", "color": "#808080", "strokeWidth": 1},
 "encoding": {"y": {"field": "v", "type": "quantitative"}}},
{"data": {"name": "laps"}, "transform": [{"filter": "datum.lap > 0"}],
 "mark": {"type": "text", "font": "Liberation Sans", "fontSize": 10.5, "color": "#000000", "align": "center", "baseline": "alphabetic", "dx": -6, "dy": -4},
 "encoding": {"x": {"field": "t", "type": "quantitative"}, "y": {"datum": -0.34, "type": "quantitative"}, "text": {"field": "lap", "type": "nominal"}}},
{"data": {"name": "laps"}, "mark": {"type": "rule", "strokeDash": [4, 3], "color": "#ff9c9c", "strokeWidth": 1, "opacity": 0.75},
 "encoding": {"x": {"field": "t", "type": "quantitative"}, "y": {"datum": -0.34, "type": "quantitative"}, "y2": {"datum": 0}}},
{"data": {"name": "gaps"},
 "transform": [{"lookup": "lap", "from": {"data": {"name": "laps"}, "key": "lap", "fields": ["t"]}},
  {"fold": ["t", "g"], "as": ["k", "v"]},
  {"aggregate": [{"op": "sum", "field": "v", "as": "x"}, {"op": "max", "field": "g", "as": "g"}], "groupby": ["d", "lap"]}],
 "mark": {"type": "line", "strokeDash": [4, 3], "color": "#ff9c9c", "strokeWidth": 1, "opacity": 0.75},
 "encoding": {
  "x": {"field": "x", "type": "quantitative"},
  "y": {"field": "g", "type": "quantitative"},
  "detail": {"field": "lap", "type": "nominal"},
  "order": {"field": "g", "type": "quantitative"}}},
{"data": {"name": "gaps"},
 "transform": [{"lookup": "lap", "from": {"data": {"name": "laps"}, "key": "lap", "fields": ["t"]}},
  {"fold": ["t", "g"], "as": ["k", "v"]},
  {"aggregate": [{"op": "sum", "field": "v", "as": "x"}, {"op": "max", "field": "g", "as": "g"}], "groupby": ["d", "lap"]}],
 "mark": {"type": "line", "strokeWidth": 2},
 "encoding": {
  "x": {"field": "x", "type": "quantitative"},
  "y": {"field": "g", "type": "quantitative"},
  "color": {"field": "d", "type": "nominal", "legend": null,
   "scale": {"domain": ["olive","ygreen","turq","gy","by","ry","dkblue","black","gray","purple","dodger","yellow","violet","pink","dkgreen","green","blue","red"],
    "range": ["#878744","#99cc66","#33cccc","#33bb33","#0000ff","#ff0000","#0000bb","#333333","#999999","#993399","#1199ff","#dddd00","#cc44ff","#ff8fab","#339933","#22cc22","#0000ff","#ff0000"]}},
  "order": {"field": "lap", "type": "quantitative"}}},
{"data": {"name": "gaps"},
 "transform": [{"lookup": "lap", "from": {"data": {"name": "laps"}, "key": "lap", "fields": ["t"]}},
  {"fold": ["t", "g"], "as": ["k", "v"]},
  {"aggregate": [{"op": "sum", "field": "v", "as": "x"}, {"op": "max", "field": "g", "as": "g"}], "groupby": ["d", "lap"]}],
 "mark": {"type": "point", "shape": "circle", "size": 30, "strokeWidth": 1.2, "opacity": 1},
 "encoding": {
  "x": {"field": "x", "type": "quantitative"},
  "y": {"field": "g", "type": "quantitative"},
  "stroke": {"field": "d", "type": "nominal", "legend": null,
   "scale": {"domain": ["olive","ygreen","turq","gy","by","ry","dkblue","black","gray","purple","dodger","yellow","violet","pink","dkgreen","green","blue","red"],
    "range": ["#878744","#99cc66","#33cccc","#33bb33","#0000ff","#ff0000","#0000bb","#333333","#999999","#993399","#1199ff","#dddd00","#cc44ff","#ff8fab","#339933","#22cc22","#0000ff","#ff0000"]}},
  "fill": {"field": "d", "type": "nominal", "legend": null,
   "scale": {"domain": ["olive","ygreen","turq","gy","by","ry","dkblue","black","gray","purple","dodger","yellow","violet","pink","dkgreen","green","blue","red"],
    "range": ["#ffffff","#ffffff","#ffffff","#ffff00","#ffff00","#ffff00","#ffffff","#ffffff","#ffffff","#ffffff","#ffffff","#ffffff","#ffffff","#ffffff","#ffffff","#ffffff","#ffffff","#ffffff"]}}}},
{"data": {"values": [{}]},
 "mark": {"type": "point", "shape": "triangle-down", "filled": true, "color": "#000000", "size": 70, "opacity": 1},
 "encoding": {"x": {"datum": 0, "type": "quantitative"}, "y": {"datum": 10.95, "type": "quantitative"}}},
{"data": {"values": [{}]},
 "mark": {"type": "rule", "color": "#000000", "strokeWidth": 1},
 "encoding": {"x": {"datum": 123, "type": "quantitative"}, "x2": {"datum": 124.5}, "y": {"datum": -0.34, "type": "quantitative"}}},
{"data": {"values": [{}]},
 "mark": {"type": "point", "shape": "triangle-right", "filled": true, "color": "#000000", "size": 70, "opacity": 1},
 "encoding": {"x": {"datum": 124.6, "type": "quantitative"}, "y": {"datum": -0.34, "type": "quantitative"}}}
]
}
